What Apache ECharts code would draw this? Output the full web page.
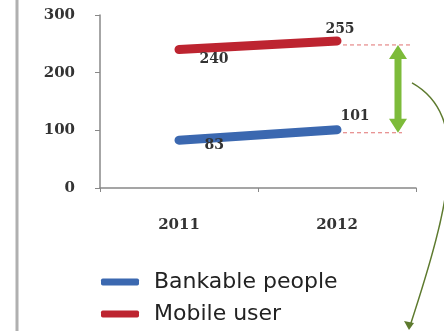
<!DOCTYPE html>
<html><head><meta charset="utf-8">
<script src="https://cdn.jsdelivr.net/npm/echarts@6/dist/echarts.min.js"></script>
<style>html,body{margin:0;padding:0;background:#fff}#c{width:444px;height:331px}</style>
</head><body><div id="c"></div>
<script>
const categories = ['2011', '2012'];
const bankable = [83, 101];
const mobile = [240, 255];
const seriesNames = ['Bankable people', 'Mobile user'];
const yTicks = [0, 100, 200, 300];

const bankLabels = [
  {position: 'right', offset: [20, 5]},
  {position: 'top', offset: [18, -1]}
];
const mobileLabels = [
  {position: 'bottom', offset: [35, -3]},
  {position: 'top', offset: [3, 1]}
];
const lblStyle = {show: true, fontFamily: 'DejaVu Serif', fontWeight: 'bold', fontSize: 14, color: '#333'};

function build(vals, lbls) {
  return vals.map((v, i) => ({value: v, label: Object.assign({}, lblStyle, lbls[i])}));
}

const chart = echarts.init(document.getElementById('c'), null, {renderer: 'canvas'});
chart.setOption({
  animation: false,
  grid: {left: 100, right: 28, top: 15, bottom: 143},
  graphic: [
    {type: 'line', shape: {x1: 17, y1: 0, x2: 17, y2: 331}, style: {stroke: '#b0b0b0', lineWidth: 3}}
  ],
  legend: {
    orient: 'vertical', left: 96, top: 266,
    itemWidth: 38, itemHeight: 7, itemGap: 10,
    icon: 'roundRect',
    textStyle: {fontFamily: 'DejaVu Sans', fontSize: 22, color: '#222', padding: [0, 0, 0, 10]},
    data: seriesNames
  },
  xAxis: {
    type: 'category', data: categories,
    axisLine: {lineStyle: {color: '#888', width: 1.5}},
    axisTick: {show: true, length: 4, lineStyle: {color: '#888'}},
    axisLabel: {margin: 30, fontFamily: 'DejaVu Serif', fontWeight: 'bold', fontSize: 15, color: '#333'}
  },
  yAxis: {
    type: 'value', min: yTicks[0], max: yTicks[yTicks.length - 1], interval: 100,
    splitLine: {show: false},
    axisLine: {show: true, lineStyle: {color: '#888', width: 1.5}},
    axisTick: {show: true, length: 5, lineStyle: {color: '#888'}},
    axisLabel: {margin: 25, fontFamily: 'DejaVu Serif', fontWeight: 'bold', fontSize: 15, color: '#333'}
  },
  series: [
    {
      name: seriesNames[0], type: 'line', data: build(bankable, bankLabels),
      symbol: 'circle', symbolSize: 1, itemStyle: {color: '#3b68b0'},
      lineStyle: {width: 9, color: '#3b68b0', cap: 'round'}, z: 3
    },
    {
      name: seriesNames[1], type: 'line', data: build(mobile, mobileLabels),
      symbol: 'circle', symbolSize: 1, itemStyle: {color: '#bd2430'},
      lineStyle: {width: 9, color: '#bd2430', cap: 'round'}, z: 3
    },
    {
      type: 'custom', silent: true, z: 4, legendHoverLink: false,
      data: [[1, mobile[1], bankable[1]]],
      encode: {x: 0, y: [1, 2]},
      renderItem: function (params, api) {
        const cs = params.coordSys;
        const pTop = api.coord([api.value(0), api.value(1)]);
        const pBot = api.coord([api.value(0), api.value(2)]);
        const right = cs.x + cs.width;
        const ax = right - 18;
        const yT = pTop[1] + 4, yB = pBot[1] + 3;
        const H = api.getHeight();
        return {
          type: 'group',
          children: [
            {type: 'line', shape: {x1: pTop[0] + 6, y1: yT, x2: right - 6, y2: yT},
              style: {stroke: '#e07070', lineWidth: 1, lineDash: [4, 3]}},
            {type: 'line', shape: {x1: pBot[0] + 6, y1: yB, x2: right - 14, y2: yB},
              style: {stroke: '#e07070', lineWidth: 1, lineDash: [4, 3]}},
            {type: 'polygon', shape: {points: [
              [ax, yT], [ax + 9, yT + 14], [ax + 3.5, yT + 14], [ax + 3.5, yB - 14], [ax + 9, yB - 14],
              [ax, yB], [ax - 9, yB - 14], [ax - 3.5, yB - 14], [ax - 3.5, yT + 14], [ax - 9, yT + 14]
            ]}, style: {fill: '#7dbb3a'}},
            {type: 'bezierCurve', shape: {x1: right - 4, y1: pTop[1] + 42, cpx1: right + 55, cpy1: pTop[1] + 75,
              cpx2: right + 35, cpy2: H - 130, x2: right - 6, y2: H - 5},
              style: {stroke: '#5d7a2e', lineWidth: 1.5, fill: null}},
            {type: 'polygon', shape: {points: [[right - 7, H - 1], [right - 12, H - 10], [right - 2, H - 8]]},
              style: {fill: '#5d7a2e'}}
          ]
        };
      }
    }
  ]
});
</script></body></html>
